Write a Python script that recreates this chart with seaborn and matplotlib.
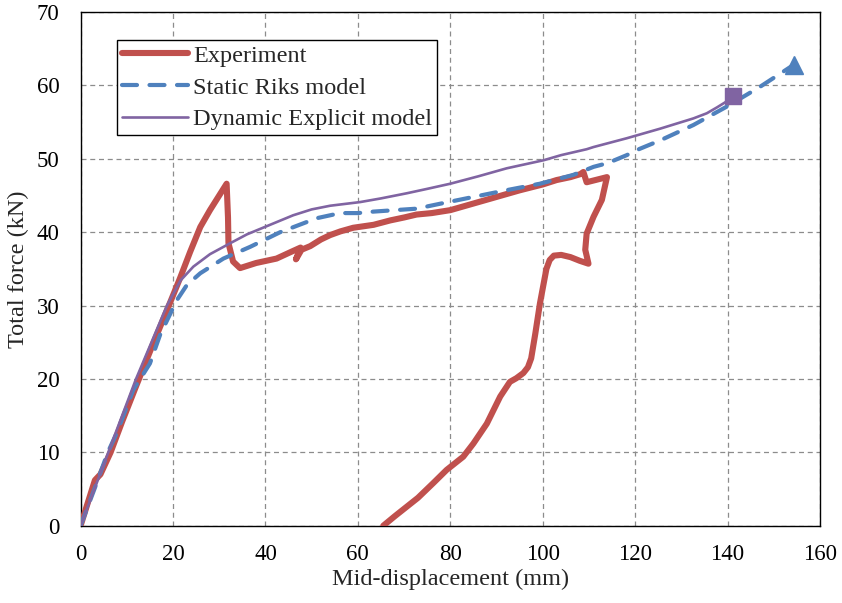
import matplotlib
matplotlib.use("Agg")
import matplotlib.pyplot as plt
import seaborn as sns

# Load-displacement data (mid-span displacement in mm, total force in kN)
exp_x = [0, 1.5, 3.1, 4.3, 6.5, 9.0, 12.0, 15.5, 19.3, 21.5, 23.7, 25.9, 28.0, 30.0, 31.6,
         31.9, 32.0, 33.0, 34.5, 38.0, 42.4, 45.5, 47.6, 46.6, 47.8, 49.7, 52.0, 54.0, 56.2,
         59.0, 63.4, 67.0, 70.0, 72.7, 76.0, 80.0, 85.0, 90.0, 95.0, 100.0, 103.0, 106.0,
         108.1, 108.8, 109.5, 113.9, 112.8, 111.0, 109.5, 109.2, 109.9, 108.0, 106.0, 104.0,
         102.4, 101.5, 100.8, 100.2, 99.4, 98.4, 97.5, 96.8, 95.8, 94.3, 92.9, 90.8, 87.9,
         85.0, 82.8, 79.2, 76.3, 73.0, 70.6, 68.0, 65.5]
exp_y = [0, 3.0, 6.2, 7.0, 10.0, 14.2, 19.0, 24.5, 30.3, 33.7, 37.3, 40.7, 43.0, 45.0, 46.6,
         42.0, 38.5, 36.0, 35.1, 35.8, 36.4, 37.3, 37.9, 36.3, 37.6, 38.1, 39.0, 39.6, 40.1,
         40.6, 41.0, 41.6, 42.0, 42.4, 42.6, 43.0, 43.9, 44.8, 45.7, 46.5, 47.1, 47.5,
         47.9, 48.2, 46.8, 47.5, 44.4, 42.1, 39.8, 37.6, 35.7, 36.1, 36.6, 36.9,
         36.8, 36.2, 35.0, 33.0, 30.3, 26.2, 22.8, 21.6, 20.8, 20.1, 19.6, 17.6, 13.9,
         11.2, 9.4, 7.6, 5.8, 3.8, 2.6, 1.3, 0.0]

riks_x = [0, 3.0, 5.9, 7.8, 11.4, 15.0, 17.2, 20.8, 23.0, 25.9, 30.9, 36.7, 43.2, 51.1,
          56.2, 60.0, 63.4, 68.0, 72.7, 78.0, 85.0, 92.0, 99.4, 106.6, 111.0, 114.0,
          118.2, 120.4, 125.4, 132.6, 139.8, 147.0, 154.3]
riks_y = [0, 5.0, 10.0, 12.6, 18.5, 22.1, 26.0, 30.7, 32.8, 34.4, 36.4, 38.0, 40.0, 41.9,
          42.6, 42.6, 42.8, 43.0, 43.2, 43.9, 44.8, 45.7, 46.6, 47.8, 48.9, 49.4,
          50.5, 51.2, 52.5, 54.6, 57.1, 59.8, 62.8]

dyn_x = [0, 6.0, 12.0, 18.7, 21.6, 24.4, 28.0, 32.4, 36.0, 41.0, 46.0, 50.0, 54.0,
         60.5, 65.0, 70.6, 75.0, 80.0, 86.0, 92.2, 100.2, 104.0, 109.5, 111.0, 118.2,
         125.4, 132.6, 135.5, 137.7, 139.5, 141.1]
dyn_y = [0, 10.0, 20.0, 30.0, 33.4, 35.3, 37.0, 38.5, 39.7, 41.0, 42.3, 43.1, 43.6,
         44.1, 44.6, 45.3, 45.9, 46.6, 47.6, 48.7, 49.8, 50.5, 51.3, 51.6, 52.8,
         54.1, 55.5, 56.2, 57.0, 57.7, 58.5]

series_labels = ["Experiment", "Static Riks model", "Dynamic Explicit model"]
x_ticks = [0, 20, 40, 60, 80, 100, 120, 140, 160]
y_ticks = [0, 10, 20, 30, 40, 50, 60, 70]

RED = "#C0504D"
BLUE = "#4F81BD"
PURPLE = "#8064A2"

sns.set_style("white")
plt.rcParams["font.family"] = ["Liberation Serif", "DejaVu Serif"]

fig = plt.figure(figsize=(8.42, 6.03), dpi=100)
ax = fig.add_axes([0.0957, 0.1282, 0.8782, 0.8519])

sns.lineplot(x=exp_x, y=exp_y, sort=False, estimator=None, ax=ax, color=RED,
             linewidth=4.4, solid_capstyle="round", solid_joinstyle="round",
             label=series_labels[0], zorder=3)
sns.lineplot(x=riks_x, y=riks_y, sort=False, estimator=None, ax=ax, color=BLUE,
             linewidth=3.0, linestyle=(0, (3.6, 3.0)), dash_capstyle="round",
             label=series_labels[1], zorder=4)
sns.lineplot(x=dyn_x, y=dyn_y, sort=False, estimator=None, ax=ax, color=PURPLE,
             linewidth=1.9, label=series_labels[2], zorder=5)

# End-point markers of the two numerical models
ax.plot([dyn_x[-1]], [dyn_y[-1]], marker="s", markersize=12, color=PURPLE,
        linestyle="none", zorder=6)
ax.plot([riks_x[-1]], [riks_y[-1]], marker="^", markersize=13, color=BLUE,
        linestyle="none", zorder=6)

ax.set_xlim(0, 160)
ax.set_ylim(0, 70)
ax.set_xticks(x_ticks)
ax.set_yticks(y_ticks)
ax.tick_params(axis="x", length=0, pad=13, labelsize=16.5, colors="black")
ax.tick_params(axis="y", length=0, pad=15, labelsize=16.5, colors="black")
ax.grid(True, color="#8c8c8c", linestyle=(0, (4, 3)), linewidth=0.9)
ax.set_axisbelow(True)
for side in ["left", "right", "top", "bottom"]:
    ax.spines[side].set_visible(True)
    ax.spines[side].set_color("black")
    ax.spines[side].set_linewidth(1.0)

ax.set_xlabel("Mid-displacement (mm)", fontsize=17.5, labelpad=3)
ax.set_ylabel("Total force (kN)", fontsize=17.5, labelpad=6)

leg = ax.legend(loc="upper left", bbox_to_anchor=(0.0488, 0.9455), borderaxespad=0,
                fontsize=17.5, frameon=True, fancybox=False, shadow=False,
                handlelength=2.75, handletextpad=0.2, labelspacing=0.4,
                borderpad=0.2)
frame = leg.get_frame()
frame.set_edgecolor("black")
frame.set_linewidth(1.0)
frame.set_alpha(1.0)

fig.savefig("out.png", dpi=100)
